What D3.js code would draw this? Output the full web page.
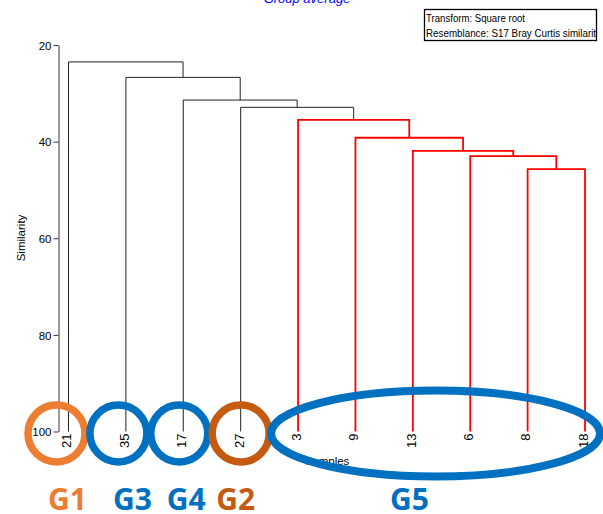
<!DOCTYPE html>
<html>
<head>
<meta charset="utf-8">
<script src="https://cdn.jsdelivr.net/npm/d3@7"></script>
<style>
  html, body { margin: 0; padding: 0; background: #fff; }
  svg { display: block; }
</style>
</head>
<body>
<svg id="chart" width="603" height="514"></svg>
<script>
// Samples in dendrogram order (left to right)
const leaves = ["21", "35", "17", "27", "3", "9", "13", "6", "8", "18"];

// Agglomeration steps: item A joins item B at the given similarity.
// Items are sample labels or earlier steps ("m1" = first step, ...).
const mergeA   = ["8",  "6",  "13", "9",  "3",  "27", "17", "35", "21"];
const mergeB   = ["18", "m1", "m2", "m3", "m4", "m5", "m6", "m7", "m8"];
const mergeSim = [45.7, 43.0, 41.9, 39.2, 35.5, 32.9, 31.4, 26.7, 23.5];

// Steps without significant internal structure (drawn in red)
const redSteps = ["m1", "m2", "m3", "m4", "m5"];

const yTicks = [20, 40, 60, 80, 100];

// Groups marked under the samples
const groupNames  = ["G1", "G3", "G4", "G2", "G5"];
const groupColors = ["#ED7D31", "#0070C0", "#0070C0", "#C55A11", "#0070C0"];
const groupLeaves = [["21"], ["35"], ["17"], ["27"], ["3", "9", "13", "6", "8", "18"]];

const titleText = "Group average";
const infoLines = ["Transform: Square root", "Resemblance: S17 Bray Curtis similarity"];

// ---------------------------------------------------------------
const svg = d3.select("#chart");
const font = "Arial, 'Liberation Sans', sans-serif";

const x = d3.scalePoint().domain(leaves).range([68.5, 585]);
const y = d3.scaleLinear().domain([20, 100]).range([45, 431.5]);

// Position of every item (leaf or step)
const pos = {};
leaves.forEach(l => { pos[l] = { x: x(l), y: y(100) }; });
mergeA.forEach((a, i) => {
  const b = mergeB[i];
  pos["m" + (i + 1)] = { x: (pos[a].x + pos[b].x) / 2, y: y(mergeSim[i]) };
});

// Dendrogram links
const links = mergeA.map((a, i) => ({ id: "m" + (i + 1), a: pos[a], b: pos[mergeB[i]], sim: mergeSim[i] }));
svg.append("g")
  .attr("fill", "none")
  .selectAll("path")
  .data(links)
  .join("path")
  .attr("d", d => {
    const yn = y(d.sim);
    return `M${d.a.x},${d.a.y}V${yn}H${d.b.x}V${d.b.y}`;
  })
  .attr("stroke", d => redSteps.includes(d.id) ? "#FF0000" : "#222")
  .attr("stroke-width", d => redSteps.includes(d.id) ? 1.8 : 1)
  .attr("stroke-linejoin", "miter");

// Y axis
const axis = svg.append("g")
  .attr("transform", "translate(58.5,0)")
  .call(d3.axisLeft(y).tickValues(yTicks).tickSize(5).tickSizeOuter(0).tickPadding(2));
axis.select(".domain").attr("stroke", "#333");
axis.selectAll(".tick line").attr("stroke", "#333");
axis.selectAll(".tick text")
  .attr("font-family", font).attr("font-size", 11.5).attr("fill", "#000")
  .attr("dy", "0.36em");

svg.append("text")
  .attr("transform", "translate(25,238) rotate(-90)")
  .attr("text-anchor", "middle")
  .attr("font-family", font).attr("font-size", 11.5)
  .text("Similarity");

// Leaf labels
svg.append("g")
  .selectAll("text")
  .data(leaves)
  .join("text")
  .attr("transform", d => `translate(${x(d)},${y(100) + 2}) rotate(-90)`)
  .attr("text-anchor", "end")
  .attr("dy", "0.22em")
  .attr("font-family", font).attr("font-size", 13)
  .text(d => d);

svg.append("text")
  .attr("x", 327).attr("y", 465)
  .attr("text-anchor", "middle")
  .attr("font-family", font).attr("font-size", 11.5)
  .text("Samples");

// Title (top edge of the page)
svg.append("text")
  .attr("x", 307).attr("y", 3)
  .attr("text-anchor", "middle")
  .attr("font-family", font).attr("font-size", 13).attr("font-style", "italic")
  .attr("fill", "#0000FF")
  .text(titleText);

// Info box
svg.append("clipPath").attr("id", "boxclip")
  .append("rect").attr("x", 424.5).attr("y", 9.5).attr("width", 172).attr("height", 31);
svg.append("rect")
  .attr("x", 424.5).attr("y", 9.5).attr("width", 172).attr("height", 31)
  .attr("fill", "#fff").attr("stroke", "#000").attr("stroke-width", 1.3);
svg.append("g").attr("clip-path", "url(#boxclip)")
  .selectAll("text")
  .data(infoLines)
  .join("text")
  .attr("x", 426).attr("y", (d, i) => 22 + i * 14.5)
  .attr("font-family", font).attr("font-size", 11.5)
  .attr("textLength", (d, i) => i === 0 ? 99 : 175)
  .attr("lengthAdjust", "spacingAndGlyphs")
  .text(d => d);

// Group markers: rings round single samples, an ellipse round the large group
const ringNudge = { G1: -12, G3: -7.5, G4: -4, G2: 0 };
const labelNudge = { G1: -1, G3: 6.5, G4: 3, G2: -5, G5: -32 };
const rowY = 433.5;

groupNames.forEach((g, i) => {
  const xs = groupLeaves[i].map(l => x(l));
  const cx = d3.mean(xs);
  if (xs.length === 1) {
    svg.append("circle")
      .attr("cx", cx + ringNudge[g]).attr("cy", rowY).attr("r", 28.5)
      .attr("fill", "none").attr("stroke", groupColors[i]).attr("stroke-width", 7.5);
  } else {
    const left = d3.min(xs), right = d3.max(xs);
    svg.append("ellipse")
      .attr("cx", (left + right) / 2 - 6).attr("cy", rowY).attr("rx", (right - left) / 2 + 21).attr("ry", 43)
      .attr("fill", "none").attr("stroke", groupColors[i]).attr("stroke-width", 8);
  }
  svg.append("text")
    .attr("x", cx + labelNudge[g]).attr("y", 510)
    .attr("text-anchor", "middle")
    .attr("font-family", "'Open Sans', Lato, sans-serif").attr("font-weight", "bold")
    .attr("font-size", 30)
    .attr("fill", groupColors[i])
    .text(g);
});
</script>
</body>
</html>
